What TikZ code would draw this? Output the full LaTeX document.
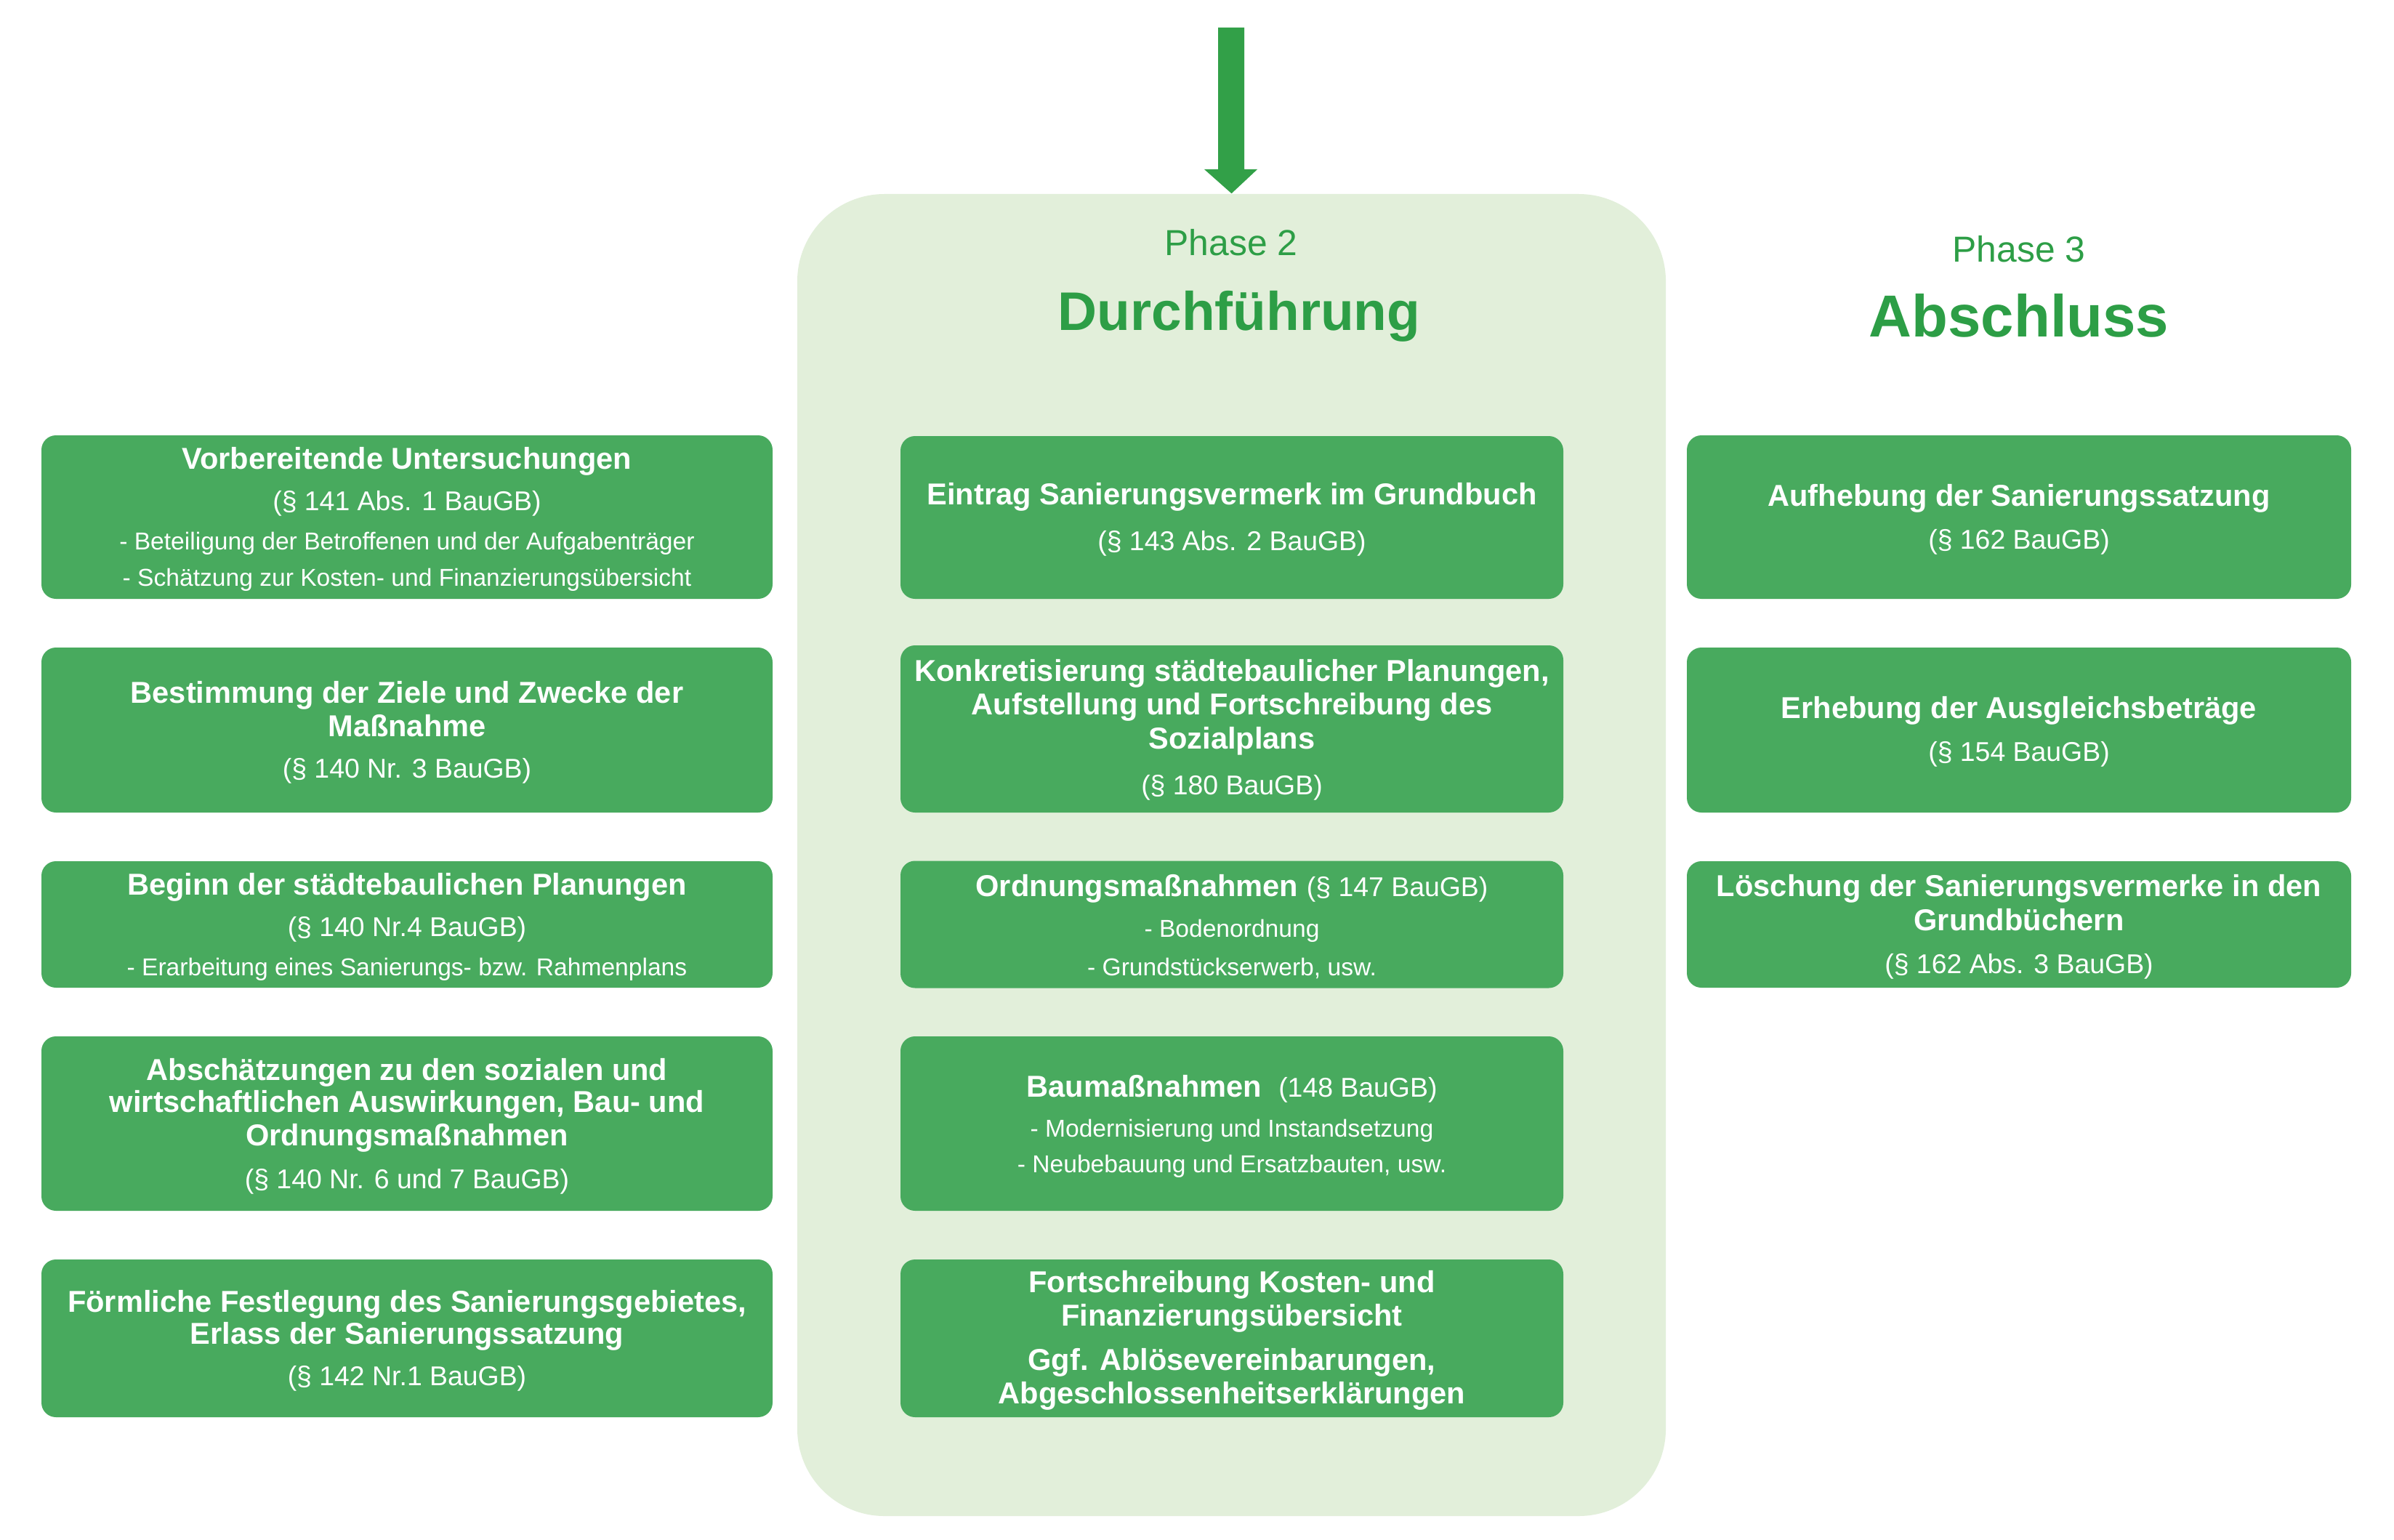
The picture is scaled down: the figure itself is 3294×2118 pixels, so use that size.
\documentclass[tikz,border=0pt]{standalone}
\usepackage{fontspec}
\setmainfont{Liberation Sans}
\definecolor{boxg}{RGB}{72,170,94}
\definecolor{arrg}{RGB}{50,160,72}
\definecolor{txtg}{RGB}{45,158,70}
\definecolor{panelg}{RGB}{226,239,218}
\begin{document}
\begin{tikzpicture}[x=0.25pt,y=-0.25pt,
  box/.style={fill=boxg, draw=none, rounded corners=5pt, inner sep=0pt},
  lbox/.style={box, minimum width=251.5pt},
  mbox/.style={box, minimum width=228pt},
  rbox/.style={box, minimum width=228.5pt},
  ttl/.style={font=\fontsize{10.4}{12}\selectfont\bfseries, text=white, inner sep=0pt, anchor=base},
  law/.style={font=\fontsize{9.35}{11}\selectfont, text=white, inner sep=0pt, anchor=base},
  bul/.style={font=\fontsize{8.4}{10}\selectfont, text=white, inner sep=0pt, anchor=base},
  phase/.style={font=\fontsize{12.45}{14}\selectfont, text=txtg, inner sep=0pt, anchor=base},
  head/.style={font=\fontsize{18.7}{21}\selectfont\bfseries, text=txtg, inner sep=0pt, anchor=base}
]
\useasboundingbox (0,0) rectangle (3294,2118);
\fill[white] (0,0) rectangle (3294,2118);

% panel
\node[fill=panelg, rounded corners=30pt, minimum width=298.75pt, minimum height=454.75pt, inner sep=0pt] (P) at (1694.5,1176.5) {};

% arrow
\coordinate (A0) at (1694,38);
\fill[arrg] ([xshift=-4.5pt]A0) -- ([xshift=4.5pt]A0) -- (1712,233) -- (1730,233) -- (P.north) -- (1657,233) -- (1676,233) -- cycle;

% headings
\node[phase] (ph2) at (1694,352) {Phase 2};
\node[head] (h2) at (1705,455) {Durchführung};
\node[phase] (ph3) at (2778,361) {Phase 3};
\node[head, font=\fontsize{20.4}{23}\selectfont\bfseries] (h3) at (2778,464) {Abschluss};

% left column
\node[lbox, minimum height=56.25pt] (L1) at (560,711.5) {};
\node[ttl] (L1a) at (560,645) {Vorbereitende Untersuchungen};
\node[law] (L1b) at (560,702.5) {(§ 141 Abs. 1 BauGB)};
\node[bul] (L1c) at (560,756) {- Beteiligung der Betroffenen und der Aufgabenträger};
\node[bul] (L1d) at (560,806) {- Schätzung zur Kosten- und Finanzierungsübersicht};

\node[lbox, minimum height=56.75pt] (L2) at (560,1004.5) {};
\node[ttl] (L2a) at (560,967) {Bestimmung der Ziele und Zwecke der};
\node[ttl] (L2b) at (560,1013) {Maßnahme};
\node[law] (L2c) at (560,1070.5) {(§ 140 Nr. 3 BauGB)};

\node[lbox, minimum height=43.5pt] (L3) at (560,1272) {};
\node[ttl] (L3a) at (560,1231) {Beginn der städtebaulichen Planungen};
\node[law] (L3b) at (560,1288.5) {(§ 140 Nr.4 BauGB)};
\node[bul] (L3c) at (560,1342) {- Erarbeitung eines Sanierungs- bzw. Rahmenplans};

\node[lbox, minimum height=60pt] (L4) at (560,1546) {};
\node[ttl] (L4a) at (560,1486) {Abschätzungen zu den sozialen und};
\node[ttl] (L4b) at (560,1530) {wirtschaftlichen Auswirkungen, Bau- und};
\node[ttl] (L4c) at (560,1576) {Ordnungsmaßnahmen};
\node[law] (L4d) at (560,1635.5) {(§ 140 Nr. 6 und 7 BauGB)};

\node[lbox, minimum height=54.25pt] (L5) at (560,1841.5) {};
\node[ttl] (L5a) at (560,1805) {Förmliche Festlegung des Sanierungsgebietes,};
\node[ttl] (L5b) at (560,1849) {Erlass der Sanierungssatzung};
\node[law] (L5c) at (560,1906.5) {(§ 142 Nr.1 BauGB)};

% middle column
\node[mbox, minimum height=56pt] (M1) at (1695,712) {};
\node[ttl] (M1a) at (1695,694) {Eintrag Sanierungsvermerk im Grundbuch};
\node[law] (M1b) at (1695,757.5) {(§ 143 Abs. 2 BauGB)};

\node[mbox, minimum height=57.5pt] (M2) at (1695,1003) {};
\node[ttl] (M2a) at (1695,937) {Konkretisierung städtebaulicher Planungen,};
\node[ttl] (M2b) at (1695,983) {Aufstellung und Fortschreibung des};
\node[ttl] (M2c) at (1695,1030) {Sozialplans};
\node[law] (M2d) at (1695,1093.5) {(§ 180 BauGB)};

\node[mbox, minimum height=43.75pt] (M3) at (1695,1272) {};
\node[ttl] (M3a) at (1695,1233) {Ordnungsmaßnahmen {\mdseries\fontsize{9.35}{11}\selectfont (§ 147 BauGB)}};
\node[bul] (M3b) at (1695,1289) {- Bodenordnung};
\node[bul] (M3c) at (1695,1342) {- Grundstückserwerb, usw.};

\node[mbox, minimum height=60pt] (M4) at (1695,1546) {};
\node[ttl] (M4a) at (1695,1509) {Baumaßnahmen\ \ {\mdseries\fontsize{9.35}{11}\selectfont(148 BauGB)}};
\node[bul] (M4b) at (1695,1564) {- Modernisierung und Instandsetzung};
\node[bul] (M4c) at (1695,1613) {- Neubebauung und Ersatzbauten, usw.};

\node[mbox, minimum height=54.25pt] (M5) at (1695,1841.5) {};
\node[ttl] (M5a) at (1695,1778) {Fortschreibung Kosten- und};
\node[ttl] (M5b) at (1695,1824) {Finanzierungsübersicht};
\node[ttl] (M5c) at (1695,1885) {Ggf. Ablösevereinbarungen,};
\node[ttl] (M5d) at (1695,1931) {Abgeschlossenheitserklärungen};

% right column
\node[rbox, minimum height=56.25pt] (R1) at (2778,711.5) {};
\node[ttl] (R1a) at (2778,696) {Aufhebung der Sanierungssatzung};
\node[law] (R1b) at (2778,755.5) {(§ 162 BauGB)};

\node[rbox, minimum height=56.75pt] (R2) at (2778,1004.5) {};
\node[ttl] (R2a) at (2778,988) {Erhebung der Ausgleichsbeträge};
\node[law] (R2b) at (2778,1047.5) {(§ 154 BauGB)};

\node[rbox, minimum height=43.5pt] (R3) at (2778,1272) {};
\node[ttl] (R3a) at (2778,1233) {Löschung der Sanierungsvermerke in den};
\node[ttl] (R3b) at (2778,1280) {Grundbüchern};
\node[law] (R3c) at (2778,1339.5) {(§ 162 Abs. 3 BauGB)};
\end{tikzpicture}
\end{document}
